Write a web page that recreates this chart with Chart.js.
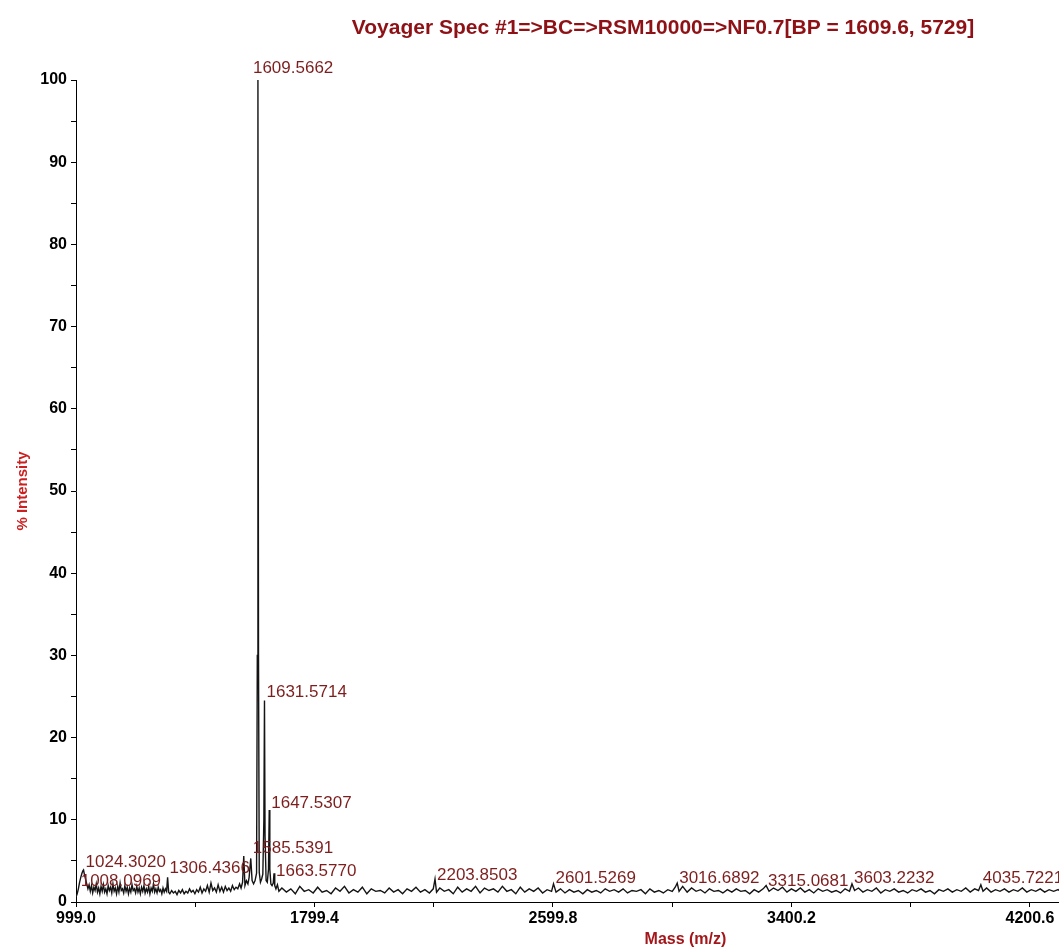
<!DOCTYPE html>
<html>
<head>
<meta charset="utf-8">
<script src="https://cdn.jsdelivr.net/npm/chart.js@4/dist/chart.umd.min.js"></script>
<style>
  body { margin: 0; background: #fff; }
  #wrap { width: 1059px; height: 950px; }
</style>
</head>
<body>
<div id="wrap"><canvas id="spectrum" width="1059" height="950"></canvas></div>
<script>
// spectrum, low mass part (dense noise + 1024 bump)
const lowMass = [999, 1003, 1007, 1011, 1015, 1019, 1022, 1024.3, 1027, 1031,
  1035, 1039, 1043, 1047, 1051, 1055, 1059, 1063, 1067, 1071,
  1075, 1079, 1083, 1087, 1091, 1095, 1099, 1103, 1107, 1111,
  1115, 1119, 1123, 1127, 1131, 1135, 1139, 1143, 1147, 1151,
  1155, 1159, 1163, 1167, 1171, 1175, 1179, 1183, 1187, 1191,
  1195, 1199, 1203, 1207, 1211, 1215, 1219, 1223, 1227, 1231,
  1235, 1239, 1243, 1247, 1251, 1255, 1259, 1263, 1267, 1271,
  1275, 1279, 1283, 1287, 1291, 1295, 1299, 1303, 1306.4, 1310,
  1314, 1320, 1326, 1332, 1338, 1344, 1350, 1356, 1362, 1368,
  1374, 1380, 1386, 1392, 1398, 1404, 1410, 1416, 1422, 1428,
  1434, 1440, 1446, 1452, 1458, 1464, 1470, 1476, 1482, 1488,
  1494, 1500, 1506, 1512, 1518, 1524, 1530, 1536, 1542, 1548, 1553];
const lowInt = [0.6, 1.0, 1.6, 2.4, 3.0, 3.5, 3.8, 3.9, 3.4, 2.8,
  2.2, 1.6, 2.1, 1.3, 2.0, 1.1, 1.8, 1.4, 2.2, 1.2,
  1.7, 1.0, 1.9, 1.3, 2.1, 1.2, 1.6, 1.0, 2.0, 1.4,
  1.8, 1.1, 2.2, 1.3, 1.7, 1.0, 1.9, 1.2, 2.3, 1.4,
  1.6, 1.1, 2.0, 1.3, 1.8, 1.0, 1.7, 1.2, 2.1, 1.4,
  1.6, 1.1, 1.9, 1.2, 1.7, 1.0, 1.8, 1.3, 2.0, 1.1,
  1.6, 1.2, 1.9, 1.0, 1.7, 1.3, 2.2, 1.2, 1.6, 1.1,
  1.8, 1.3, 1.5, 1.0, 1.7, 1.2, 1.6, 1.3, 3.0, 1.2,
  1.0, 1.4, 1.1, 1.3, 0.9, 1.4, 1.1, 1.5, 1.0, 1.3,
  1.1, 1.6, 1.2, 1.4, 1.0, 1.5, 1.2, 1.8, 1.1, 1.6,
  1.3, 2.0, 1.2, 2.3, 1.4, 1.7, 1.2, 2.1, 1.3, 1.8,
  1.2, 1.9, 1.4, 1.7, 1.3, 2.0, 1.5, 1.8, 1.6, 2.2, 1.7];

// base peak cluster
const clusterMass = [1558, 1562, 1566, 1571, 1576, 1580, 1585.54, 1590, 1595, 1600,
  1605, 1607.5, 1609.57, 1611.5, 1614, 1618, 1622, 1626, 1629.5, 1631.57,
  1633.5, 1637, 1641, 1645, 1647.53, 1649.5, 1653, 1657, 1661, 1663.58,
  1666, 1670, 1675, 1680];
const clusterInt = [2.4, 5.6, 2.0, 2.6, 2.2, 3.0, 5.3, 2.6, 2.2, 2.6,
  3.5, 30, 100, 30, 3.6, 2.4, 2.8, 3.4, 10, 24.5,
  8, 2.6, 2.4, 4.0, 11.2, 4.0, 2.2, 2.0, 2.3, 3.5,
  2.0, 1.6, 2.1, 1.3];

// high mass baseline
const highMass = [1690, 1705, 1720, 1735, 1750, 1765, 1780, 1795, 1810, 1825,
  1840, 1855, 1870, 1885, 1900, 1915, 1930, 1945, 1960, 1975,
  1990, 2005, 2020, 2035, 2050, 2065, 2080, 2095, 2110, 2125,
  2140, 2155, 2170, 2185, 2198, 2203.85, 2209, 2220, 2235, 2250,
  2265, 2280, 2295, 2310, 2325, 2340, 2355, 2370, 2385, 2400,
  2415, 2430, 2445, 2460, 2475, 2490, 2505, 2520, 2535, 2550,
  2565, 2580, 2595, 2601.53, 2610, 2625, 2640, 2655, 2670, 2685,
  2700, 2715, 2730, 2745, 2760, 2775, 2790, 2805, 2820, 2835,
  2850, 2865, 2880, 2895, 2910, 2925, 2940, 2955, 2970, 2985,
  3000, 3010, 3016.69, 3023, 3035, 3050, 3065, 3080, 3095, 3110,
  3125, 3140, 3155, 3170, 3185, 3200, 3215, 3230, 3245, 3260,
  3275, 3290, 3305, 3315.07, 3325, 3340, 3355, 3370, 3385, 3400,
  3415, 3430, 3445, 3460, 3475, 3490, 3505, 3520, 3535, 3550,
  3565, 3580, 3595, 3603.22, 3612, 3625, 3640, 3655, 3670, 3685,
  3700, 3715, 3730, 3745, 3760, 3775, 3790, 3805, 3820, 3835,
  3850, 3865, 3880, 3895, 3910, 3925, 3940, 3955, 3970, 3985,
  4000, 4015, 4028, 4035.72, 4043, 4055, 4070, 4085, 4100, 4115,
  4130, 4145, 4160, 4175, 4190, 4205, 4220, 4235, 4250, 4265,
  4280, 4295, 4298];
const highInt = [1.7, 1.2, 1.6, 1.0, 1.9, 1.3, 1.5, 1.1, 1.8, 1.2,
  1.4, 1.0, 1.7, 1.3, 1.9, 1.1, 1.5, 1.2, 1.8, 1.0,
  1.6, 1.3, 1.4, 1.1, 1.7, 1.2, 1.5, 1.0, 1.6, 1.3,
  1.8, 1.2, 1.5, 1.1, 1.6, 2.8, 1.2, 1.7, 1.3, 1.5,
  1.0, 1.8, 1.2, 1.6, 1.3, 1.9, 1.1, 1.7, 1.4, 1.6,
  1.2, 1.9, 1.3, 1.5, 1.0, 1.8, 1.2, 1.6, 1.3, 1.7,
  1.1, 1.5, 1.3, 2.2, 1.2, 1.6, 1.1, 1.5, 1.2, 1.4,
  1.0, 1.5, 1.2, 1.4, 1.1, 1.6, 1.3, 1.5, 1.2, 1.6,
  1.1, 1.4, 1.3, 1.5, 1.0, 1.6, 1.2, 1.4, 1.1, 1.5,
  1.3, 1.8, 2.3, 1.3, 1.9, 1.2, 1.7, 1.3, 1.5, 1.1,
  1.6, 1.3, 1.4, 1.1, 1.5, 1.2, 1.6, 1.3, 1.4, 1.0,
  1.5, 1.2, 1.6, 2.0, 1.3, 1.7, 1.4, 1.8, 1.2, 1.6,
  1.3, 1.7, 1.2, 1.5, 1.1, 1.6, 1.3, 1.5, 1.2, 1.4,
  1.1, 1.6, 1.3, 2.2, 1.4, 1.7, 1.2, 1.5, 1.3, 1.7,
  1.1, 1.5, 1.3, 1.6, 1.2, 1.4, 1.1, 1.5, 1.3, 1.6,
  1.2, 1.4, 1.0, 1.5, 1.3, 1.6, 1.2, 1.5, 1.3, 1.7,
  1.2, 1.6, 1.4, 2.1, 1.3, 1.7, 1.2, 1.5, 1.3, 1.6,
  1.2, 1.5, 1.3, 1.7, 1.2, 1.5, 1.3, 1.6, 1.2, 1.5,
  1.3, 1.5, 1.4];

// peak annotations: label text, peak mass, intensity where the label sits
const peakLabels = ['1609.5662', '1631.5714', '1647.5307', '1585.5391', '1663.5770',
  '1306.4366', '1024.3020', '1008.0969', '2203.8503', '2601.5269',
  '3016.6892', '3315.0681', '3603.2232', '4035.7221'];
const peakMass = [1609.57, 1631.57, 1647.53, 1585.54, 1663.58,
  1306.44, 1024.30, 1008.10, 2203.85, 2601.53,
  3016.69, 3315.07, 3603.22, 4035.72];
const labelLevel = [100.8, 24.9, 11.4, 6.0, 3.2,
  3.5, 4.3, 1.9, 2.7, 2.3,
  2.3, 1.9, 2.3, 2.3];

const xTickValues = [999.0, 1799.4, 2599.8, 3400.2, 4200.6];
const xTickLabels = ['999.0', '1799.4', '2599.8', '3400.2', '4200.6'];
const xMinorValues = [1399.2, 2199.6, 3000.0, 3800.4];
const yTickValues = [0, 10, 20, 30, 40, 50, 60, 70, 80, 90, 100];
const yMinorValues = [5, 15, 25, 35, 45, 55, 65, 75, 85, 95];

const titleText = 'Voyager Spec #1=>BC=>RSM10000=>NF0.7[BP = 1609.6, 5729]';
const xTitle = 'Mass (m/z)';
const yTitle = '% Intensity';

const FONT = '"Liberation Sans", Arial, sans-serif';

const masses = lowMass.concat(clusterMass, highMass);
const intensities = lowInt.concat(clusterInt, highInt);
const points = masses.map((m, i) => ({ x: m, y: intensities[i] }));

const textPlugin = {
    id: 'spectrumText',
    afterDraw(chart) {
        const ctx = chart.ctx;
        const xs = chart.scales.x;
        const ys = chart.scales.y;
        const area = chart.chartArea;
        ctx.save();

        // header
        ctx.fillStyle = '#8e1116';
        ctx.font = 'bold 21px ' + FONT;
        ctx.textAlign = 'center';
        ctx.textBaseline = 'middle';
        ctx.fillText(titleText, 663, 28);

        // x axis title
        ctx.fillStyle = '#a3161a';
        ctx.font = 'bold 16px ' + FONT;
        ctx.fillText(xTitle, area.left + (area.right - area.left) * 0.62, 940);

        // peak labels
        ctx.fillStyle = '#7d1e1e';
        ctx.font = '17px ' + FONT;
        ctx.textAlign = 'left';
        ctx.textBaseline = 'alphabetic';
        for (let i = 0; i < peakLabels.length; i++) {
            const px = xs.getPixelForValue(peakMass[i]);
            const py = ys.getPixelForValue(labelLevel[i]);
            ctx.fillText(peakLabels[i], px + (i === 0 ? -5 : 2), py);
        }
        ctx.restore();
    }
};

const ctx = document.getElementById('spectrum').getContext('2d');
new Chart(ctx, {
    type: 'line',
    data: {
        datasets: [{
            data: points,
            borderColor: '#141414',
            borderWidth: 1.4,
            pointRadius: 0,
            tension: 0,
            fill: false
        }]
    },
    options: {
        responsive: false,
        animation: false,
        devicePixelRatio: 1,
        layout: { padding: { top: 80, left: 0, right: 0, bottom: 0 } },
        plugins: {
            legend: { display: false },
            tooltip: { enabled: false }
        },
        scales: {
            x: {
                type: 'linear',
                min: 999.0,
                max: 4298,
                afterBuildTicks: (scale) => {
                    scale.ticks = xTickValues.concat(xMinorValues)
                        .sort((a, b) => a - b)
                        .map(v => ({ value: v }));
                },
                afterFit: (scale) => { scale.height = 48; },
                grid: { drawOnChartArea: false, drawTicks: true, tickLength: 5, color: '#000' },
                border: { color: '#000', width: 1 },
                ticks: {
                    autoSkip: false,
                    maxRotation: 0,
                    padding: 2,
                    color: '#000',
                    font: { family: FONT, size: 16, weight: 'bold' },
                    callback: (value) => {
                        const k = xTickValues.indexOf(value);
                        return k >= 0 ? xTickLabels[k] : '';
                    }
                }
            },
            y: {
                min: 0,
                max: 100,
                afterBuildTicks: (scale) => {
                    scale.ticks = yTickValues.concat(yMinorValues)
                        .sort((a, b) => a - b)
                        .map(v => ({ value: v }));
                },
                afterFit: (scale) => { scale.width = 76; },
                grid: { drawOnChartArea: false, drawTicks: true, tickLength: 5, color: '#000' },
                border: { color: '#000', width: 1 },
                title: {
                    display: true,
                    text: yTitle,
                    color: '#cc1f1f',
                    font: { family: FONT, size: 15, weight: 'bold' },
                    padding: { top: 14, bottom: 0 }
                },
                ticks: {
                    autoSkip: false,
                    padding: 4,
                    color: '#000',
                    font: { family: FONT, size: 16, weight: 'bold' },
                    callback: (value) => yTickValues.includes(value) ? String(value) : ''
                }
            }
        }
    },
    plugins: [textPlugin]
});
</script>
</body>
</html>
